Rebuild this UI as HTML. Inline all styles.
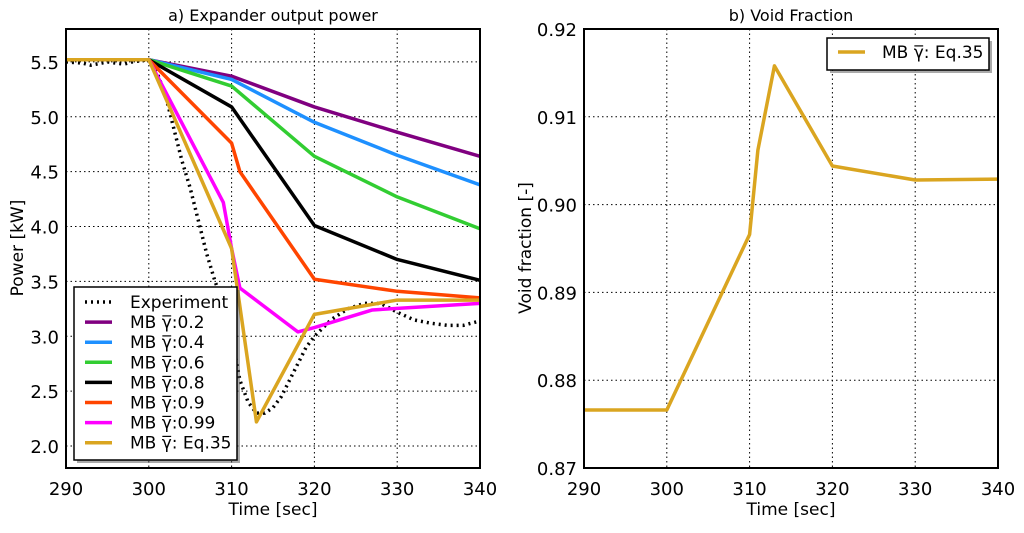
<!DOCTYPE html>
<html><head><meta charset="utf-8"><style>
body{margin:0;background:#fff;}
svg text{font-family:"DejaVu Sans","Liberation Sans",sans-serif;fill:#000;}
</style></head><body>
<svg id="chart" width="1024" height="528" viewBox="0 0 1024 528" xmlns="http://www.w3.org/2000/svg"></svg>
<script>
const xTicks=[290,300,310,320,330,340];
const yTicksA=[2.0,2.5,3.0,3.5,4.0,4.5,5.0,5.5];
const yTicksB=[0.87,0.88,0.89,0.90,0.91,0.92];
const seriesNames=["Experiment","MB γ̅:0.2","MB γ̅:0.4","MB γ̅:0.6","MB γ̅:0.8","MB γ̅:0.9","MB γ̅:0.99","MB γ̅: Eq.35"];
const expX=[290,292,293,295,297,298,300,301,302,303,304,305,306,307,308,309,310,311,312,313,314,315,316,317,318,319,320,322,324,326,328,330,332,334,336,338,340];
const expY=[5.5,5.49,5.47,5.5,5.48,5.5,5.52,5.4,5.2,4.9,4.6,4.35,4.05,3.75,3.5,3.3,3.0,2.6,2.4,2.3,2.3,2.35,2.45,2.6,2.75,2.9,3.0,3.15,3.25,3.3,3.3,3.22,3.15,3.12,3.1,3.1,3.14];
const g02X=[290,300,310,320,330,340], g02Y=[5.52,5.52,5.37,5.09,4.86,4.64];
const g04X=[290,300,310,320,330,340], g04Y=[5.52,5.52,5.34,4.95,4.65,4.38];
const g06X=[290,300,310,320,330,340], g06Y=[5.52,5.52,5.28,4.64,4.27,3.98];
const g08X=[290,300,310,320,330,340], g08Y=[5.52,5.52,5.09,4.01,3.70,3.51];
const g09X=[290,300,310,311,320,330,340], g09Y=[5.52,5.52,4.76,4.5,3.52,3.41,3.35];
const g099X=[290,300,309,310,311,318,320,327,340], g099Y=[5.52,5.52,4.22,3.8,3.44,3.04,3.08,3.24,3.30];
const eqX=[290,300,310,313,320,330,340], eqY=[5.52,5.52,3.8,2.22,3.2,3.33,3.33];
const vfX=[290,300,310,311,313,320,330,340], vfY=[0.8766,0.8766,0.8966,0.9062,0.9158,0.9044,0.9028,0.9029];
const colors=["#000","#800080","#1e90ff","#32cd32","#000","#ff4500","#ff00ff","#daa520"];

const NS="http://www.w3.org/2000/svg";
const svg=document.getElementById('chart');
function mk(tag,attrs,parent){const e=document.createElementNS(NS,tag);for(const k in attrs)e.setAttribute(k,attrs[k]);(parent||svg).appendChild(e);return e;}
function axes(x0,x1,y0,y1,ymin,ymax){return {sx:v=>x0+(v-290)/50*(x1-x0),sy:v=>y1-(v-ymin)/(ymax-ymin)*(y1-y0)};}
const A=axes(66,480,29,468,1.8,5.8), B=axes(584,998,29,468,0.87,0.92);

function frame(ax,x0,x1,y0,y1,yt,fmt,name){
  const g=mk('g',{});
  
  
  xTicks.forEach(t=>{const x=ax.sx(t);
    if(t>290&&t<340){mk('line',{x1:x,x2:x,y1:y0,y2:y1,stroke:'#000','stroke-width':1,'stroke-dasharray':'1.5,3'},g);}
    const tx=mk('text',{x:x,y:y1+27,'text-anchor':'middle','font-size':18});tx.textContent=t;
    
    
  });
  yt.forEach(t=>{const y=ax.sy(t);
    if(Math.abs(y-y0)>1&&Math.abs(y-y1)>1){mk('line',{x1:x0,x2:x1,y1:y,y2:y,stroke:'#000','stroke-width':1,'stroke-dasharray':'1.5,3'},g);}
    const tx=mk('text',{x:x0-7,y:y+7,'text-anchor':'end','font-size':18});tx.textContent=fmt(t);
    
    
  });
}
function border(x0,x1,y0,y1,name){const r=mk('rect',{x:x0,y:y0,width:x1-x0,height:y1-y0,fill:'none',stroke:'#000','stroke-width':2});
  
  }
function line(ax,xs,ys,col,w,dash,name,clip){
  const p=mk('polyline',{points:xs.map((x,i)=>ax.sx(x)+','+ax.sy(ys[i])).join(' '),fill:'none',stroke:col,'stroke-width':w,'stroke-linejoin':'round','clip-path':clip});
  if(dash)p.setAttribute('stroke-dasharray',dash);
  
  
}
const defs=mk('defs',{});
const c1=mk('clipPath',{id:'ca'},defs);mk('rect',{x:66,y:29,width:414,height:439},c1);
const c2=mk('clipPath',{id:'cb'},defs);mk('rect',{x:584,y:29,width:414,height:439},c2);

frame(A,66,480,29,468,yTicksA,v=>v.toFixed(1),'power');
frame(B,584,998,29,468,yTicksB,v=>v.toFixed(2),'void');
const ca='url(#ca)';
line(A,expX,expY,'#000',3.5,'2,4','experiment-line',ca);
line(A,g02X,g02Y,colors[1],3.5,null,'line-gamma-0.2',ca);
line(A,g04X,g04Y,colors[2],3.5,null,'line-gamma-0.4',ca);
line(A,g06X,g06Y,colors[3],3.5,null,'line-gamma-0.6',ca);
line(A,g08X,g08Y,colors[4],3.5,null,'line-gamma-0.8',ca);
line(A,g09X,g09Y,colors[5],3.5,null,'line-gamma-0.9',ca);
line(A,g099X,g099Y,colors[6],3.5,null,'line-gamma-0.99',ca);
line(A,eqX,eqY,colors[7],3.5,null,'line-gamma-eq35',ca);
line(B,vfX,vfY,colors[7],3.5,null,'void-fraction-line','url(#cb)');
border(66,480,29,468,'power');
border(584,998,29,468,'void');

function txt(s,attrs,name){const t=mk('text',attrs);t.textContent=s;
  
  return t;}
txt('a) Expander output power',{x:273,y:21,'text-anchor':'middle','font-size':16},'title-a');
txt('b) Void Fraction',{x:791,y:21,'text-anchor':'middle','font-size':16},'title-b');
txt('Time [sec]',{x:273,y:515,'text-anchor':'middle','font-size':17},'x-axis-title-a');
txt('Time [sec]',{x:791,y:515,'text-anchor':'middle','font-size':17},'x-axis-title-b');
txt('Power [kW]',{x:0,y:0,'text-anchor':'middle','font-size':17,transform:'translate(23,248) rotate(-90)'},'y-axis-title-a');
txt('Void fraction [-]',{x:0,y:0,'text-anchor':'middle','font-size':17,transform:'translate(531,248) rotate(-90)'},'y-axis-title-b');

const lg=mk('g',{});


mk('rect',{x:77,y:290,width:163,height:173,fill:'#555',opacity:0.5},lg);
mk('rect',{x:74,y:287,width:163,height:173,fill:'#fff',stroke:'#000','stroke-width':1.5},lg);
seriesNames.forEach((n,i)=>{const y=302+i*20.1;
  const l=mk('line',{x1:85,x2:112,y1:y,y2:y,stroke:colors[i],'stroke-width':3.5},lg);
  if(i===0)l.setAttribute('stroke-dasharray','2,4');
  const t=mk('text',{x:130,y:y+6,'font-size':17},lg);t.textContent=n;
  
  
});
const lb=mk('g',{});


mk('rect',{x:830,y:41,width:162,height:32,fill:'#555',opacity:0.5},lb);
mk('rect',{x:827,y:38,width:162,height:32,fill:'#fff',stroke:'#000','stroke-width':1.5},lb);
mk('line',{x1:838,x2:865,y1:52,y2:52,stroke:colors[7],'stroke-width':3.5},lb);
const tb=mk('text',{x:882,y:58,'font-size':17},lb);tb.textContent=seriesNames[7];


</script>
</body></html>
